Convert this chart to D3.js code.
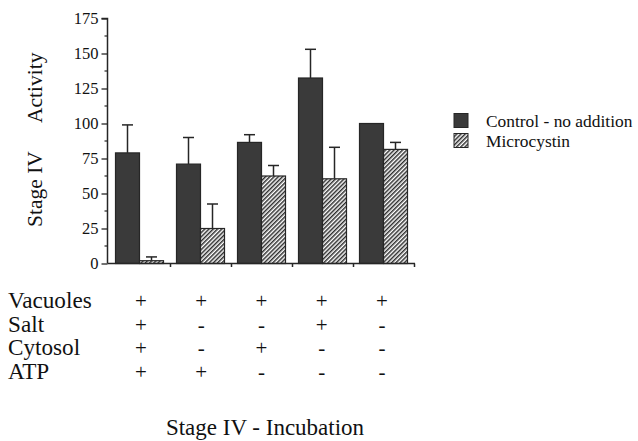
<!DOCTYPE html>
<html>
<head>
<meta charset="utf-8">
<script src="https://cdn.jsdelivr.net/npm/d3@7"></script>
<style>
  body { margin: 0; background: #fff; }
  svg text { font-family: "Liberation Serif", "Times New Roman", serif; }
</style>
</head>
<body>
<svg id="chart" width="638" height="441"></svg>
<script>
const groups = ['g1', 'g2', 'g3', 'g4', 'g5'];
const series = ['Control - no addition', 'Microcystin'];
const controlValues = [79, 71, 86.5, 132.5, 100];
const controlErrTop = [99, 90, 92, 153, null];
const microValues = [2, 25, 62.5, 60.5, 81.5];
const microErrTop = [4.7, 42.5, 70, 83, 86.5];
const yTicks = [0, 25, 50, 75, 100, 125, 150, 175];
const rowLabels = ['Vacuoles', 'Salt', 'Cytosol', 'ATP'];
const conditions = [
  ['+', '+', '+', '+', '+'],
  ['+', '-', '-', '+', '-'],
  ['+', '-', '+', '-', '-'],
  ['+', '+', '-', '-', '-'],
];

const serif = '"Liberation Serif", "Times New Roman", serif';
const svg = d3.select('#chart');
const ink = '#262626';
const dark = '#3a3a3a';

const defs = svg.append('defs');
const pat = defs.append('pattern')
  .attr('id', 'hatch')
  .attr('patternUnits', 'userSpaceOnUse')
  .attr('width', 3).attr('height', 3)
  .attr('patternTransform', 'rotate(45)');
pat.append('rect').attr('width', 3).attr('height', 3).attr('fill', '#fff');
pat.append('line').attr('x1', 0.75).attr('y1', 0).attr('x2', 0.75).attr('y2', 3)
  .attr('stroke', '#2e2e2e').attr('stroke-width', 1.5);

const axisX = 107.5;
const x = d3.scaleBand().domain(groups).range([109.5, 414.5]);
const xSub = d3.scaleBand().domain(series).range([6, 54]);
const y = d3.scaleLinear().domain([0, 175]).range([263.5, 18.5]);

const data = groups.flatMap((g, i) => [
  { g, s: series[0], v: controlValues[i], e: controlErrTop[i] },
  { g, s: series[1], v: microValues[i], e: microErrTop[i] },
]);

// error bars first (behind bars)
const err = svg.append('g').attr('stroke', ink).attr('stroke-width', 1.5);
data.filter(d => d.e != null).forEach(d => {
  const cx = x(d.g) + xSub(d.s) + xSub.bandwidth() / 2;
  err.append('line').attr('x1', cx).attr('x2', cx).attr('y1', y(d.v)).attr('y2', y(d.e));
  err.append('line').attr('x1', cx - 5.5).attr('x2', cx + 5.5).attr('y1', y(d.e)).attr('y2', y(d.e));
});

svg.append('g').selectAll('rect').data(data).join('rect')
  .attr('x', d => x(d.g) + xSub(d.s))
  .attr('y', d => y(d.v))
  .attr('width', xSub.bandwidth())
  .attr('height', d => y(0) - y(d.v))
  .attr('fill', d => d.s === series[0] ? dark : 'url(#hatch)')
  .attr('stroke', ink).attr('stroke-width', 1.2);

// y axis
const yAxis = svg.append('g').attr('transform', `translate(${axisX},0)`)
  .call(d3.axisLeft(y).tickValues(yTicks).tickSize(6).tickPadding(3));
yAxis.attr('font-family', serif);
yAxis.select('.domain').attr('stroke', ink).attr('stroke-width', 1.5).attr('d', `M-6,${y(175)}H0V${y(0)}`);
yAxis.selectAll('.tick line').attr('stroke', ink).attr('stroke-width', 1.3);
yAxis.selectAll('.tick text').attr('font-size', 16.5).attr('fill', '#111')
  .attr('font-family', serif);
yAxis.append('g').selectAll('line').data(d3.range(12.5, 175, 25)).join('line')
  .attr('x1', -3).attr('x2', 0).attr('y1', d => y(d)).attr('y2', d => y(d))
  .attr('stroke', ink).attr('stroke-width', 1.2);

// x axis
svg.append('line').attr('x1', axisX).attr('x2', 415).attr('y1', y(0)).attr('y2', y(0))
  .attr('stroke', ink).attr('stroke-width', 1.5);
svg.append('g').selectAll('line').data(groups).join('line')
  .attr('x1', d => x(d) + x.bandwidth()).attr('x2', d => x(d) + x.bandwidth())
  .attr('y1', y(0)).attr('y2', y(0) + 3.5)
  .attr('stroke', ink).attr('stroke-width', 1.5);

// y label
svg.append('text').attr('transform', 'translate(42,227) rotate(-90)')
  .attr('font-family', serif).attr('font-size', 21.5).attr('fill', '#111').text('Stage IV');
svg.append('text').attr('transform', 'translate(42,123) rotate(-90)')
  .attr('font-family', serif).attr('font-size', 21.5).attr('fill', '#111').text('Activity');

// legend
const legend = svg.append('g').attr('font-family', serif).attr('font-size', 17.4).attr('fill', '#111');
series.forEach((s, i) => {
  legend.append('rect').attr('x', 454).attr('y', 113.5 + i * 20).attr('width', 14).attr('height', 14)
    .attr('fill', i === 0 ? dark : 'url(#hatch)').attr('stroke', ink).attr('stroke-width', 1);
  legend.append('text').attr('x', 486).attr('y', 127 + i * 20).text(s);
});

// condition table
const col = d3.scalePoint().domain(groups).range([141, 382]);
const table = svg.append('g').attr('font-family', serif).attr('fill', '#111');
rowLabels.forEach((r, i) => {
  const by = 308 + i * 23.7;
  table.append('text').attr('x', 8).attr('y', by).attr('font-size', 23.2).text(r);
  table.append('g').selectAll('text').data(conditions[i]).join('text')
    .attr('x', (d, j) => col(groups[j]))
    .attr('y', by)
    .attr('text-anchor', 'middle')
    .attr('font-size', 21)
    .text(d => d);
});

svg.append('text').attr('x', 265).attr('y', 435).attr('text-anchor', 'middle')
  .attr('font-family', serif).attr('font-size', 23).attr('fill', '#111').text('Stage IV - Incubation');
</script>
</body>
</html>
